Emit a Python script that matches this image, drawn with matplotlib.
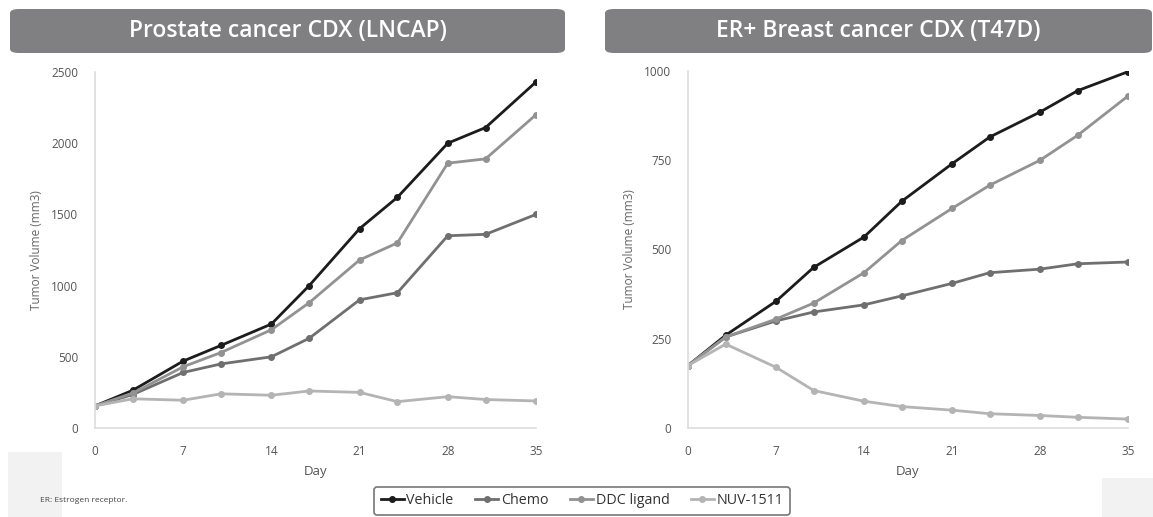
import matplotlib
matplotlib.use("Agg")
import matplotlib.pyplot as plt
from matplotlib.patches import FancyBboxPatch, Rectangle

days = [0, 3, 7, 10, 14, 17, 21, 24, 28, 31, 35]
series_names = ["Vehicle", "Chemo", "DDC ligand", "NUV-1511"]

lncap_vehicle = [155, 265, 470, 580, 730, 1000, 1400, 1620, 2000, 2110, 2430]
lncap_chemo = [155, 235, 390, 450, 500, 630, 900, 950, 1350, 1360, 1500]
lncap_ddc = [155, 245, 430, 530, 690, 880, 1180, 1300, 1860, 1890, 2200]
lncap_nuv = [155, 205, 195, 240, 230, 260, 250, 185, 220, 200, 190]

t47d_vehicle = [175, 260, 355, 450, 535, 635, 740, 815, 885, 945, 998]
t47d_chemo = [175, 255, 300, 325, 345, 370, 405, 435, 445, 460, 465]
t47d_ddc = [175, 255, 305, 350, 435, 525, 615, 680, 750, 820, 930]
t47d_nuv = [175, 235, 170, 105, 75, 60, 50, 40, 35, 30, 25]

titles = ["Prostate cancer CDX (LNCAP)", "ER+ Breast cancer CDX (T47D)"]
xticks = [0, 7, 14, 21, 28, 35]
yticks_left = [0, 500, 1000, 1500, 2000, 2500]
yticks_right = [0, 250, 500, 750, 1000]

colors = ["#1c1c1c", "#6f6f6f", "#929292", "#b4b4b4"]
font = "Open Sans"

W, H = 1153, 517
fig = plt.figure(figsize=(W / 100, H / 100), dpi=100)

def ax_rect(x0, x1, y0, y1):
    return [x0 / W, 1 - y1 / H, (x1 - x0) / W, (y1 - y0) / H]

axL = fig.add_axes(ax_rect(95, 536, 72, 428))
axR = fig.add_axes(ax_rect(688, 1128, 71, 428))

panels = [
    (axL, [lncap_vehicle, lncap_chemo, lncap_ddc, lncap_nuv], yticks_left, 2500),
    (axR, [t47d_vehicle, t47d_chemo, t47d_ddc, t47d_nuv], yticks_right, 1000),
]

handles = []
for ax, data, yt, ymax in panels:
    for vals, c, name in zip(data, colors, series_names):
        h, = ax.plot(days, vals, color=c, lw=2.0, marker="o", ms=4, label=name,
                     solid_joinstyle="round")
        if ax is axL:
            handles.append(h)
    ax.set_xlim(0, 35)
    ax.set_ylim(0, ymax)
    ax.set_xticks(xticks)
    ax.set_yticks(yt)
    ax.tick_params(length=0, labelsize=8.5, labelcolor="#555555", pad=12)
    for lab in ax.get_xticklabels() + ax.get_yticklabels():
        lab.set_fontfamily(font)
    for s in ["top", "right"]:
        ax.spines[s].set_visible(False)
    for s in ["left", "bottom"]:
        ax.spines[s].set_color("#dddddd")
        ax.spines[s].set_linewidth(1.2)
    ax.set_xlabel("Day", fontsize=9.5, color="#555555", family=font, labelpad=5)
    ax.set_ylabel("Tumor Volume (mm3)", fontsize=8.5, color="#666666", family=font, labelpad=6)
    ax.patch.set_alpha(0)

# title bars
for (x0, x1), t in zip([(10, 565), (605, 1152)], titles):
    fig.patches.append(FancyBboxPatch((x0 / W, 1 - 53 / H), (x1 - x0) / W, 44 / H,
                                      boxstyle="round,pad=0,rounding_size=0.008",
                                      transform=fig.transFigure, facecolor="#808083",
                                      edgecolor="none", zorder=0))
    fig.text((x0 + x1) / 2 / W, 1 - 31 / H, t, ha="center", va="center",
             color="white", fontsize=16.5, family=font, fontweight="semibold")

# light grey blocks
fig.patches.append(Rectangle((8 / W, 0), 54 / W, (517 - 452) / H, transform=fig.transFigure,
                             facecolor="#f2f2f2", edgecolor="none", zorder=0))
fig.patches.append(Rectangle((1102 / W, 0), 51 / W, (517 - 478) / H, transform=fig.transFigure,
                             facecolor="#f2f2f2", edgecolor="none", zorder=0))

fig.text(40 / W, 1 - 500 / H, "ER: Estrogen receptor.", fontsize=6, color="#444444",
         family=font, va="center")

leg = fig.legend(handles=handles, loc="center", bbox_to_anchor=(582 / W, 1 - 501 / H),
                 ncol=4, frameon=True, prop={"family": font, "size": 10.3},
                 handlelength=1.6, handletextpad=0.2, columnspacing=1.5,
                 borderpad=0.45, fancybox=True)
leg.get_frame().set_edgecolor("#555555")
leg.get_frame().set_linewidth(1.2)
for t in leg.get_texts():
    t.set_color("#333333")

fig.savefig("out.png", dpi=100)
